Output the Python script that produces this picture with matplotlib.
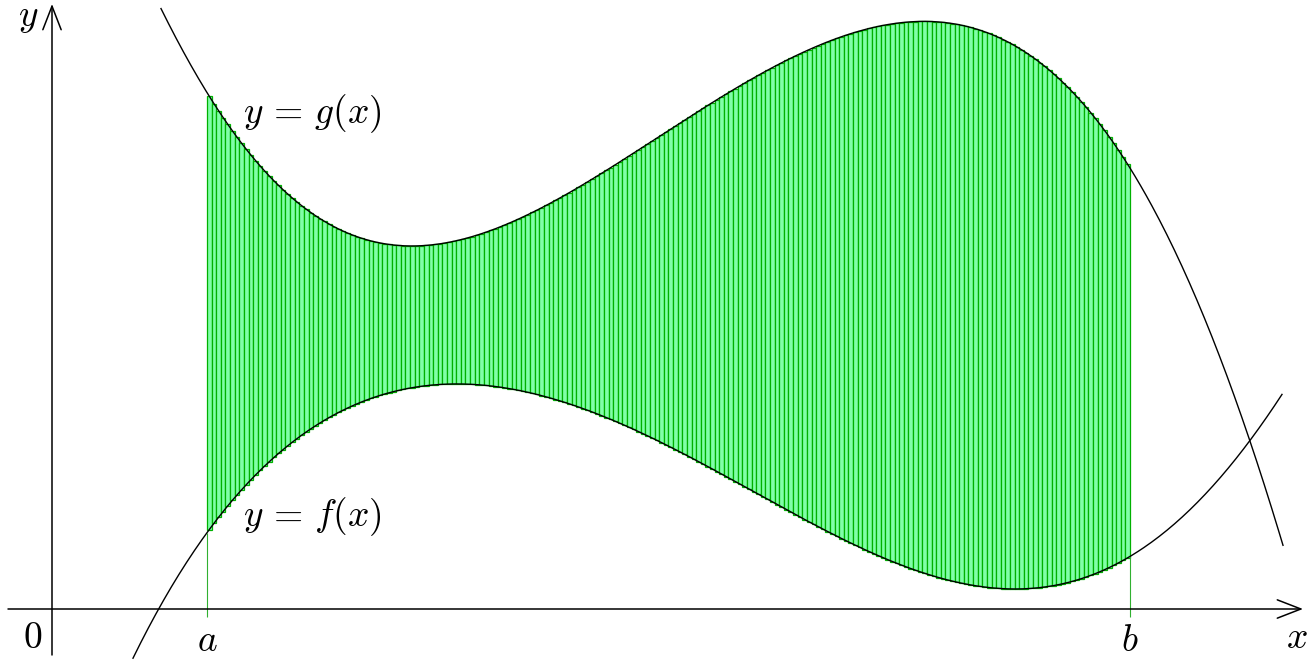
import numpy as np
import matplotlib
matplotlib.use("Agg")
import matplotlib.pyplot as plt

plt.rcParams['mathtext.fontset'] = 'cm'

# Points (data units: 1 unit = 100 px)
g_x = [1.10, 1.31, 1.48, 1.61, 1.88, 2.15, 2.48, 2.81, 3.15, 3.65, 4.15, 4.88, 5.38, 5.88,
       6.38, 6.88, 7.38, 7.88, 8.38, 8.65, 8.81, 9.28, 9.48, 9.98, 10.48, 10.78, 11.15,
       11.48, 11.81, 11.98, 12.31]
g_y = [5.98, 5.59, 5.29, 5.06, 4.66, 4.36, 4.04, 3.82, 3.71, 3.65, 3.71, 3.99, 4.27, 4.57,
       4.94, 5.26, 5.52, 5.72, 5.85, 5.87, 5.87, 5.77, 5.69, 5.37, 4.87, 4.41, 3.79,
       3.04, 2.09, 1.66, 0.67]

f_x = [0.81, 1.38, 1.55, 1.83, 2.18, 2.53, 2.88, 3.30, 3.97, 4.64, 5.34, 6.04, 6.74, 7.44,
       8.14, 8.85, 9.55, 10.25, 10.77, 11.30, 11.65, 11.98, 12.28]
f_y = [-0.51, 0.57, 0.79, 1.08, 1.42, 1.76, 1.99, 2.17, 2.26, 2.19, 1.97, 1.69, 1.32, 0.96,
       0.59, 0.32, 0.19, 0.29, 0.52, 0.92, 1.29, 1.67, 2.12]

a_val = 1.55
b_val = 10.78
n_bars = 200

labels = {"g": r"$y\,=\,g(x)$", "f": r"$y\,=\,f(x)$", "a": r"$a$", "b": r"$b$",
          "x": r"$x$", "y": r"$y$", "o": r"$0$"}

g = np.polynomial.Polynomial.fit(g_x, g_y, 7)
f = np.polynomial.Polynomial.fit(f_x, f_y, 7)

fig = plt.figure(figsize=(13.08, 6.60), dpi=100)
ax = fig.add_axes([0, 0, 1, 1])
ax.set_xlim(-0.52, 12.56)
ax.set_ylim(-0.51, 6.09)
ax.axis('off')

# bars
edges = np.linspace(a_val, b_val, n_bars + 1)
mids = (edges[:-1] + edges[1:]) / 2
w = edges[1] - edges[0]
ax.bar(mids, g(mids) - f(mids), width=w, bottom=f(mids), facecolor='#80ffa8',
       edgecolor='#00b000', linewidth=0.9, zorder=2)

# vertical green lines at a and b
ax.vlines([a_val, b_val], -0.08, f(np.array([a_val, b_val])), color='#30b030',
          linewidth=0.8, zorder=2)

# axes
arrow = dict(arrowstyle='->,head_length=0.85,head_width=0.33', lw=1.1, color='black',
             shrinkA=0, shrinkB=0, mutation_scale=20)
ax.annotate('', xy=(12.51, 0), xytext=(-0.44, 0), arrowprops=arrow, zorder=3)
ax.annotate('', xy=(0, 6.05), xytext=(0, -0.46), arrowprops=arrow, zorder=3)

# curves
xg = np.linspace(1.09, 12.31, 600)
ax.plot(xg, g(xg), color='black', lw=1.0, zorder=4)
xf = np.linspace(0.81, 12.30, 600)
ax.plot(xf, f(xf), color='black', lw=1.0, zorder=4)

fs = 27
ax.text(1.91, 4.855, labels["g"], fontsize=fs, ha='left', va='baseline')
ax.text(1.91, 0.83, labels["f"], fontsize=fs, ha='left', va='baseline')
ax.text(a_val, -0.42, labels["a"], fontsize=fs, ha='center', va='baseline')
ax.text(b_val, -0.42, labels["b"], fontsize=fs, ha='center', va='baseline')
ax.text(12.45, -0.39, labels["x"], fontsize=fs, ha='center', va='baseline')
ax.text(-0.24, 5.83, labels["y"], fontsize=fs, ha='center', va='baseline')
ax.text(-0.19, -0.39, labels["o"], fontsize=fs, ha='center', va='baseline')

fig.savefig('out.png', dpi=100)
